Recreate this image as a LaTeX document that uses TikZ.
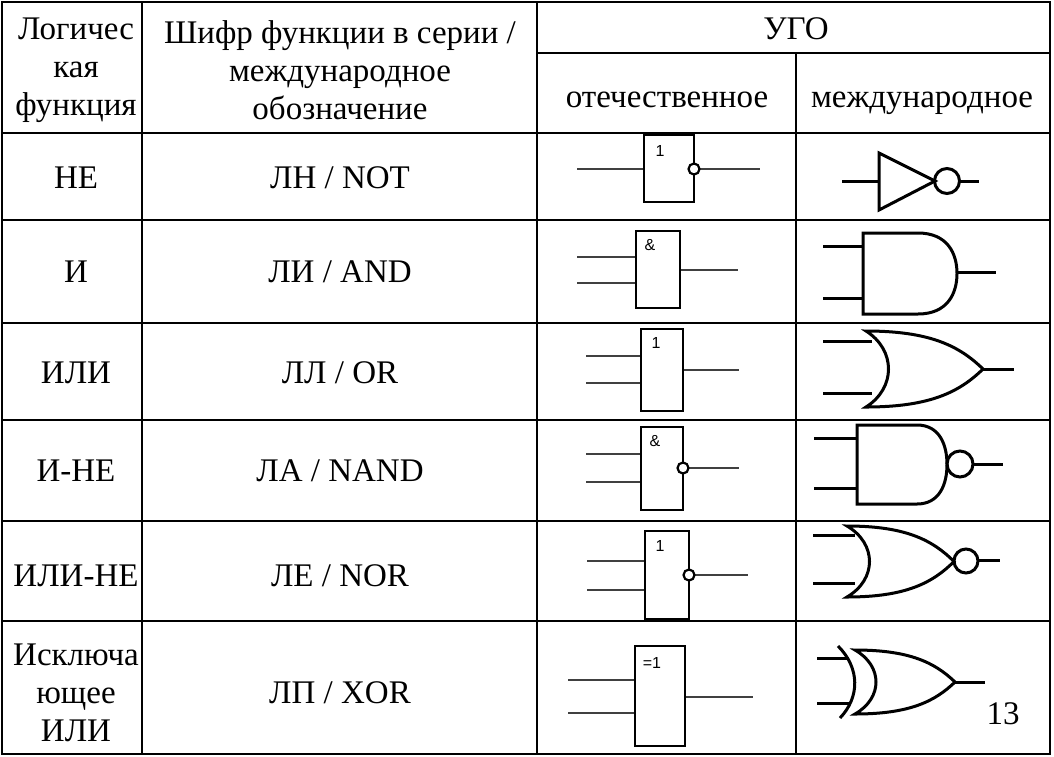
\documentclass[tikz,border=0pt]{standalone}
\usepackage{fontspec}
\setmainfont{Liberation Serif}
\newfontfamily\gsans{Liberation Sans}
\tikzset{
  grid/.style={line width=1.6pt},
  wire/.style={line width=1.3pt, draw=black!75},
  box/.style={line width=2.2pt},
  ig/.style={line width=3pt},
  txt/.style={font=\fontsize{33}{38}\selectfont, align=center, inner sep=0pt},
  glab/.style={font=\gsans\fontsize{16}{16}\selectfont, inner sep=0pt},
}
% OR body: #1 x0, #2 ytop, #3 ybot, #4 bulge x, #5 tip x
\newcommand{\orbody}[5]{%
  \draw[ig] (#1,#2) .. controls ({#1+0.55*(#5-#1)},#2) and ({#5-0.2*(#5-#1)},{#2+0.2*(#3-#2)}) .. (#5,{(#2+#3)/2})
    .. controls ({#5-0.2*(#5-#1)},{#3-0.2*(#3-#2)}) and ({#1+0.55*(#5-#1)},#3) .. (#1,#3)
    .. controls ({2*#4-#1},{#3-0.25*(#3-#2)}) and ({2*#4-#1},{#2+0.25*(#3-#2)}) .. cycle;}
% AND body: #1 x0, #2 ytop, #3 ybot, #4 flat x, #5 right x
\newcommand{\andbody}[5]{%
  \draw[ig] (#1,#2) -- (#4,#2) .. controls ({#4+0.75*(#5-#4)},#2) and (#5,{#2+0.25*(#3-#2)}) .. (#5,{(#2+#3)/2})
    .. controls (#5,{#3-0.25*(#3-#2)}) and ({#4+0.75*(#5-#4)},#3) .. (#4,#3) -- (#1,#3) -- cycle;}
\begin{document}
\begin{tikzpicture}[x=1pt,y=-1pt]
\useasboundingbox (0,0) rectangle (1054,756);
% grid
\draw[grid] (2,2) rectangle (1050,754);
\foreach \x in {142,537} \draw[grid] (\x,2) -- (\x,754);
\draw[grid] (796,53) -- (796,754);
\draw[grid] (537,53) -- (1050,53);
\foreach \y in {133,220,323,420,521,621} \draw[grid] (2,\y) -- (1050,\y);
% header
\node[txt] (h1) at (76,70) {Логичес\\кая\\функция};
\node[txt] (h2) at (340,70) {Шифр функции в серии /\\международное\\обозначение};
\node[txt] (h3) at (796,29) {УГО};
\node[txt,anchor=base] (h4) at (667,107) {отечественное};
\node[txt,anchor=base] (h5) at (922,107) {международное};
% rows
\node[txt] (f1) at (76,178) {НЕ};      \node[txt] (c1) at (340,178) {ЛН / NOT};
\node[txt] (f2) at (76,272) {И};       \node[txt] (c2) at (340,272) {ЛИ / AND};
\node[txt] (f3) at (76,373) {ИЛИ};     \node[txt] (c3) at (340,373) {ЛЛ / OR};
\node[txt] (f4) at (76,471) {И-НЕ};    \node[txt] (c4) at (340,471) {ЛА / NAND};
\node[txt] (f5) at (76,576) {ИЛИ-НЕ};  \node[txt] (c5) at (340,576) {ЛЕ / NOR};
\node[txt] (f6) at (76,693) {Исключа\\ющее\\ИЛИ}; \node[txt] (c6) at (340,693) {ЛП / XOR};
\node[txt] (pg) at (1003,714) {13};
% ---- domestic symbols
% NOT
\draw[wire] (577,169) -- (643,169); \draw[wire] (699,169) -- (760,169);
\draw[box] (644,135) rectangle (694,202);
\draw[box,fill=white] (694,169) circle (5.5);
\node[glab] (l1) at (660,151) {1};
% AND
\draw[wire] (577,257) -- (636,257); \draw[wire] (577,283) -- (636,283); \draw[wire] (680,270) -- (738,270);
\draw[box] (636,231) rectangle (680,308);
\node[glab] (l2) at (650,245) {\&};
% OR
\draw[wire] (586,356) -- (641,356); \draw[wire] (586,383) -- (641,383); \draw[wire] (683,370) -- (739,370);
\draw[box] (641,329) rectangle (683,411);
\node[glab] (l3) at (656,343) {1};
% NAND
\draw[wire] (586,454) -- (641,454); \draw[wire] (586,482) -- (641,482); \draw[wire] (688,468) -- (739,468);
\draw[box] (641,427) rectangle (683,510);
\draw[box,fill=white] (683,468) circle (5.5);
\node[glab] (l4) at (655,441) {\&};
% NOR
\draw[wire] (587,561) -- (645,561); \draw[wire] (587,590) -- (645,590); \draw[wire] (694,575) -- (748,575);
\draw[box] (645,531) rectangle (689,619);
\draw[box,fill=white] (689,575) circle (5.5);
\node[glab] (l5) at (660,546) {1};
% XOR
\draw[wire] (568,680) -- (635,680); \draw[wire] (568,713) -- (635,713); \draw[wire] (686,697) -- (753,697);
\draw[box] (635,646) rectangle (685,746);
\node[glab] (l6) at (652,663) {=1};
% ---- international symbols
% NOT
\draw[ig] (842,181) -- (879,181); \draw[ig] (960,181) -- (979,181);
\draw[ig] (879,153) -- (935,181) -- (879,210) -- cycle;
\draw[ig] (947,181) circle (12.5);
% AND
\draw[ig] (823,246) -- (863,246); \draw[ig] (823,298) -- (863,298); \draw[ig] (957,272) -- (996,272);
\andbody{863}{233}{314}{918}{957}
% OR
\draw[ig] (823,341) -- (872,341); \draw[ig] (823,393) -- (872,393); \draw[ig] (983,369) -- (1014,369);
\orbody{866}{331}{407}{881}{983}
% NAND
\draw[ig] (814,438) -- (857,438); \draw[ig] (814,488) -- (857,488); \draw[ig] (973,464) -- (1003,464);
\andbody{857}{425}{504}{917}{947}
\draw[ig] (960,464) circle (13);
% NOR
\draw[ig] (813,535) -- (855,535); \draw[ig] (813,583) -- (855,583); \draw[ig] (978,560) -- (1000,560);
\orbody{847}{526}{597}{862}{954}
\draw[ig] (966,561) circle (12);
% XOR
\draw[ig] (817,658) -- (849,658); \draw[ig] (817,703) -- (849,703); \draw[ig] (955,682) -- (985,682);
\orbody{855}{650}{714}{869}{955}
\draw[ig] (838,646) .. controls (860,668) and (860,697) .. (840,718);
\end{tikzpicture}
\end{document}
